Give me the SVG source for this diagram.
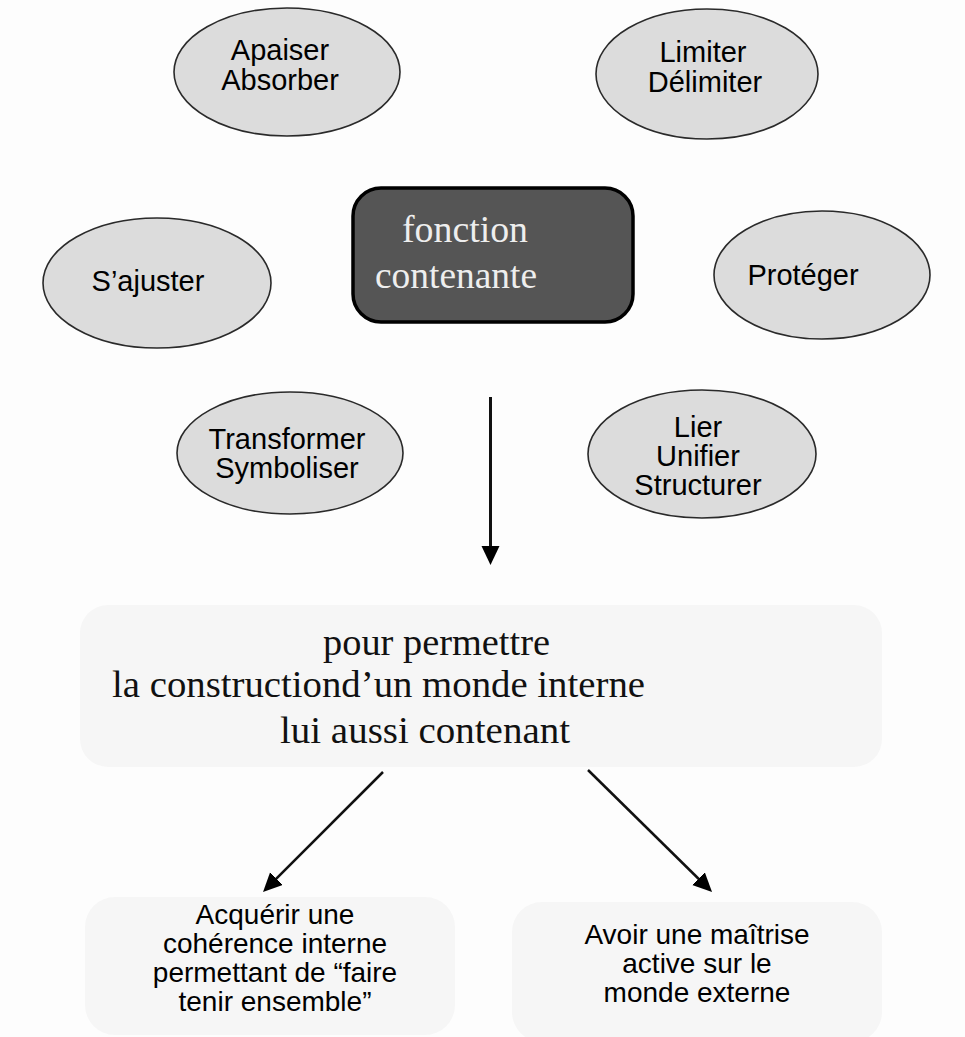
<svg xmlns="http://www.w3.org/2000/svg" width="965" height="1037" viewBox="0 0 965 1037">
<style>
.ell{fill:#dcdcdc;stroke:#2a2a2a;stroke-width:1.6}
.sans{font-family:"Liberation Sans",Arial,sans-serif;font-size:29px;fill:#000;text-anchor:middle}
.box{font-size:28px}
.serif{font-family:"Liberation Serif","Times New Roman",serif;font-size:38px;fill:#111}
.soft{fill:#f6f6f6}
.con{stroke:#111;fill:none}
</style>
<defs>
<marker id="ah" markerUnits="userSpaceOnUse" markerWidth="20" markerHeight="19" refX="9" refY="9" orient="auto">
<path d="M0,0 L19,9 L0,18 z" fill="#000"/>
</marker>
</defs>
<rect width="965" height="1037" fill="#fdfdfd"/>

<g id="n-apaiser">
<ellipse class="ell" cx="287" cy="72" rx="113" ry="64"/>
<text class="sans"><tspan x="280" y="60">Apaiser</tspan><tspan x="280" y="90">Absorber</tspan></text>
</g>
<g id="n-limiter">
<ellipse class="ell" cx="707" cy="74" rx="111" ry="65"/>
<text class="sans"><tspan x="703" y="62">Limiter</tspan><tspan x="705" y="92">Délimiter</tspan></text>
</g>
<g id="n-sajuster">
<ellipse class="ell" cx="157" cy="283" rx="114" ry="65"/>
<text class="sans" x="148" y="291">S’ajuster</text>
</g>
<g id="n-proteger">
<ellipse class="ell" cx="822" cy="275" rx="108" ry="64"/>
<text class="sans" x="803" y="285">Protéger</text>
</g>
<g id="n-transformer">
<ellipse class="ell" cx="290" cy="453" rx="113" ry="61"/>
<text class="sans"><tspan x="287" y="449">Transformer</tspan><tspan x="287" y="478">Symboliser</tspan></text>
</g>
<g id="n-lier">
<ellipse class="ell" cx="702" cy="454" rx="114" ry="64"/>
<text class="sans"><tspan x="698" y="437">Lier</tspan><tspan x="698" y="466">Unifier</tspan><tspan x="698" y="495">Structurer</tspan></text>
</g>

<g id="n-fonction">
<rect x="353" y="188" width="280" height="134" rx="28" fill="#555555" stroke="#000" stroke-width="3.5"/>
<text class="serif" x="402" y="242" style="fill:#eeeeee" font-size="37" textLength="126" lengthAdjust="spacingAndGlyphs">fonction</text>
<text class="serif" x="375" y="288" style="fill:#eeeeee" font-size="37" textLength="162" lengthAdjust="spacingAndGlyphs">contenante</text>
</g>

<g id="n-permettre">
<rect class="soft" x="80" y="605" width="802" height="162" rx="28"/>
<text class="serif" x="323" y="655" textLength="227" lengthAdjust="spacingAndGlyphs">pour permettre</text>
<text class="serif" x="112" y="697" textLength="533" lengthAdjust="spacingAndGlyphs">la constructiond’un monde interne</text>
<text class="serif" x="280" y="743" textLength="290" lengthAdjust="spacingAndGlyphs">lui aussi contenant</text>
</g>

<g id="n-coherence">
<rect class="soft" x="85" y="897" width="370" height="138" rx="30"/>
<text class="sans box"><tspan x="275" y="924">Acquérir une</tspan><tspan x="275" y="953">cohérence interne</tspan><tspan x="275" y="982">permettant de “faire</tspan><tspan x="275" y="1011">tenir ensemble”</tspan></text>
</g>

<g id="n-maitrise">
<rect class="soft" x="512" y="902" width="370" height="140" rx="30"/>
<text class="sans box"><tspan x="697" y="944">Avoir une maîtrise</tspan><tspan x="697" y="973">active sur le</tspan><tspan x="697" y="1002">monde externe</tspan></text>
</g>

<g id="connectors">
<line class="con" x1="490.5" y1="397" x2="490.5" y2="555" stroke-width="3" marker-end="url(#ah)"/>
<line class="con" x1="383" y1="772" x2="270.1" y2="884.9" stroke-width="2.5" marker-end="url(#ah)"/>
<line class="con" x1="588" y1="770" x2="704.9" y2="885" stroke-width="2.5" marker-end="url(#ah)"/>
</g>
</svg>
